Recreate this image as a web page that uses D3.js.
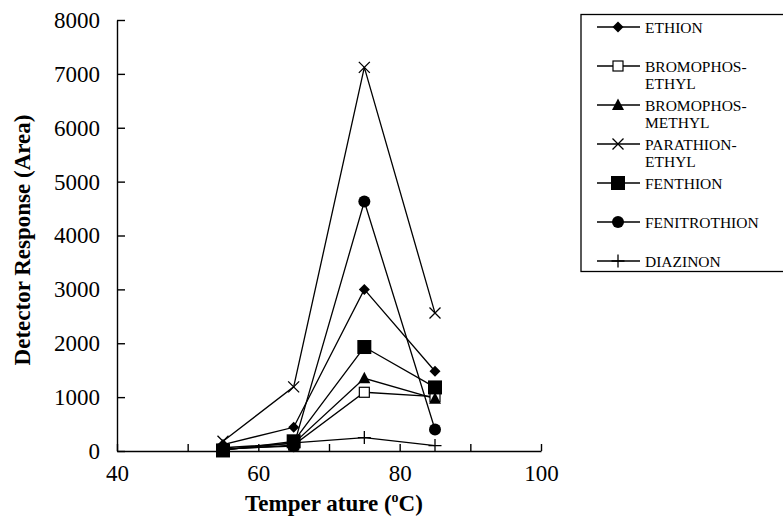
<!DOCTYPE html>
<html>
<head>
<meta charset="utf-8">
<script src="https://cdn.jsdelivr.net/npm/d3@7"></script>
<style>
  body { margin: 0; background: #fff; }
</style>
</head>
<body>
<div id="wrapper"></div>
<script>
// Data
const temperatures = [55, 65, 75, 85];
const ethion = [120, 440, 3000, 1480];
const bromophosEthyl = [30, 110, 1090, 1010];
const bromophosMethyl = [60, 140, 1350, 970];
const parathionEthyl = [180, 1190, 7120, 2560];
const fenthion = [10, 180, 1930, 1180];
const fenitrothion = [40, 90, 4630, 400];
const diazinon = [20, 150, 250, 100];

const xTicks = [40, 50, 60, 70, 80, 90, 100];
const yTicks = [0, 1000, 2000, 3000, 4000, 5000, 6000, 7000, 8000];

const seriesList = [
  { name: ["ETHION"], values: ethion, marker: "diamond" },
  { name: ["BROMOPHOS-", "ETHYL"], values: bromophosEthyl, marker: "openSquare" },
  { name: ["BROMOPHOS-", "METHYL"], values: bromophosMethyl, marker: "triangle" },
  { name: ["PARATHION-", "ETHYL"], values: parathionEthyl, marker: "cross" },
  { name: ["FENTHION"], values: fenthion, marker: "square" },
  { name: ["FENITROTHION"], values: fenitrothion, marker: "circle" },
  { name: ["DIAZINON"], values: diazinon, marker: "plus" },
];

const serif = "'Liberation Serif'";

// Dimensions
const dimensions = {
  width: 783,
  height: 517,
  margin: { top: 20, right: 242, bottom: 66, left: 117 },
};
dimensions.boundedWidth = dimensions.width - dimensions.margin.left - dimensions.margin.right;
dimensions.boundedHeight = dimensions.height - dimensions.margin.top - dimensions.margin.bottom;

const svg = d3.select("#wrapper")
  .append("svg")
    .attr("width", dimensions.width)
    .attr("height", dimensions.height);

const bounds = svg.append("g")
  .attr("transform", `translate(${dimensions.margin.left},${dimensions.margin.top})`);

// Scales
const xScale = d3.scaleLinear()
  .domain([40, 100])
  .range([0, dimensions.boundedWidth]);

const yScale = d3.scaleLinear()
  .domain([0, 8000])
  .range([dimensions.boundedHeight, 0]);

// Axes
const xAxis = d3.axisBottom(xScale)
  .tickValues(xTicks)
  .tickFormat(d => d % 20 === 0 ? d : "")
  .tickSizeInner(-7)
  .tickSizeOuter(0)
  .tickPadding(14);

const yAxis = d3.axisLeft(yScale)
  .tickValues(yTicks)
  .tickFormat(d3.format("d"))
  .tickSizeInner(-8)
  .tickSizeOuter(0)
  .tickPadding(17);

const xAxisGroup = bounds.append("g")
  .attr("transform", `translate(0,${dimensions.boundedHeight})`)
  .call(xAxis);

const yAxisGroup = bounds.append("g")
  .call(yAxis);

[xAxisGroup, yAxisGroup].forEach(g => {
  g.attr("font-family", serif).attr("font-size", 23);
  g.selectAll("path, line").attr("stroke", "#000").attr("stroke-width", 1.4);
  g.selectAll("text").attr("fill", "#000").style("font-family", serif);
});

// Axis titles
svg.append("text")
  .attr("transform", `translate(22,240) rotate(-90)`)
  .attr("text-anchor", "middle")
  .attr("dominant-baseline", "central")
  .style("font-family", serif)
  .style("font-size", "23px")
  .style("font-weight", "bold")
  .text("Detector Response (Area)");

const xTitle = svg.append("text")
  .attr("x", 334)
  .attr("y", 511)
  .attr("text-anchor", "middle")
  .style("font-family", serif)
  .style("font-size", "23px")
  .style("font-weight", "bold");
xTitle.append("tspan").text("Temper ature (");
xTitle.append("tspan").attr("dy", -9).style("font-size", "14px").text("o");
xTitle.append("tspan").attr("dy", 9).text("C)");

// Markers
function drawMarker(g, type) {
  if (type === "diamond") {
    g.append("path").attr("d", "M0,-5.5L5.5,0L0,5.5L-5.5,0Z").attr("fill", "#000");
  } else if (type === "openSquare") {
    g.append("rect").attr("x", -5).attr("y", -5).attr("width", 10).attr("height", 10)
      .attr("fill", "#fff").attr("stroke", "#000").attr("stroke-width", 1.2);
  } else if (type === "triangle") {
    g.append("path").attr("d", "M0,-6.5L6,5L-6,5Z").attr("fill", "#000");
  } else if (type === "cross") {
    g.append("path").attr("d", "M-5.5,-5.5L5.5,5.5M-5.5,5.5L5.5,-5.5").attr("stroke", "#000").attr("stroke-width", 1.3);
  } else if (type === "square") {
    g.append("rect").attr("x", -7).attr("y", -7).attr("width", 14).attr("height", 14).attr("fill", "#000");
  } else if (type === "circle") {
    g.append("circle").attr("r", 6).attr("fill", "#000");
  } else if (type === "plus") {
    g.append("path").attr("d", "M-6.5,0L6.5,0M0,-6.5L0,6.5").attr("stroke", "#000").attr("stroke-width", 1.3);
  }
}

// Lines
const lineGenerator = d3.line()
  .x((d, i) => xScale(temperatures[i]))
  .y(d => yScale(d));

seriesList.forEach(s => {
  bounds.append("path")
    .datum(s.values)
    .attr("d", lineGenerator)
    .attr("fill", "none")
    .attr("stroke", "#000")
    .attr("stroke-width", 1.3);
});

seriesList.forEach(s => {
  s.values.forEach((v, i) => {
    const g = bounds.append("g")
      .attr("transform", `translate(${xScale(temperatures[i])},${yScale(v)})`);
    drawMarker(g, s.marker);
  });
});

// Legend
const legend = svg.append("g");
legend.append("rect")
  .attr("x", 581).attr("y", 14.5)
  .attr("width", 220).attr("height", 257)
  .attr("fill", "none").attr("stroke", "#000").attr("stroke-width", 1.3);

const legendY = d3.scalePoint()
  .domain(seriesList.map((d, i) => i))
  .range([27, 261]);

seriesList.forEach((s, i) => {
  const y = legendY(i);
  const item = legend.append("g").attr("transform", `translate(0,${y})`);
  item.append("line")
    .attr("x1", 597).attr("x2", 640)
    .attr("stroke", "#000").attr("stroke-width", 1.3);
  const m = item.append("g").attr("transform", "translate(618,0)");
  drawMarker(m, s.marker);
  // one text per entry, wrapped lines as tspans
  const label = item.append("text")
    .attr("x", 645)
    .attr("y", 5.5)
    .style("font-family", serif)
    .style("font-size", "15.5px");
  s.name.forEach((n, j) => {
    label.append("tspan")
      .attr("x", 645)
      .attr("dy", j === 0 ? 0 : 17.5)
      .text(n);
  });
});
</script>
</body>
</html>
